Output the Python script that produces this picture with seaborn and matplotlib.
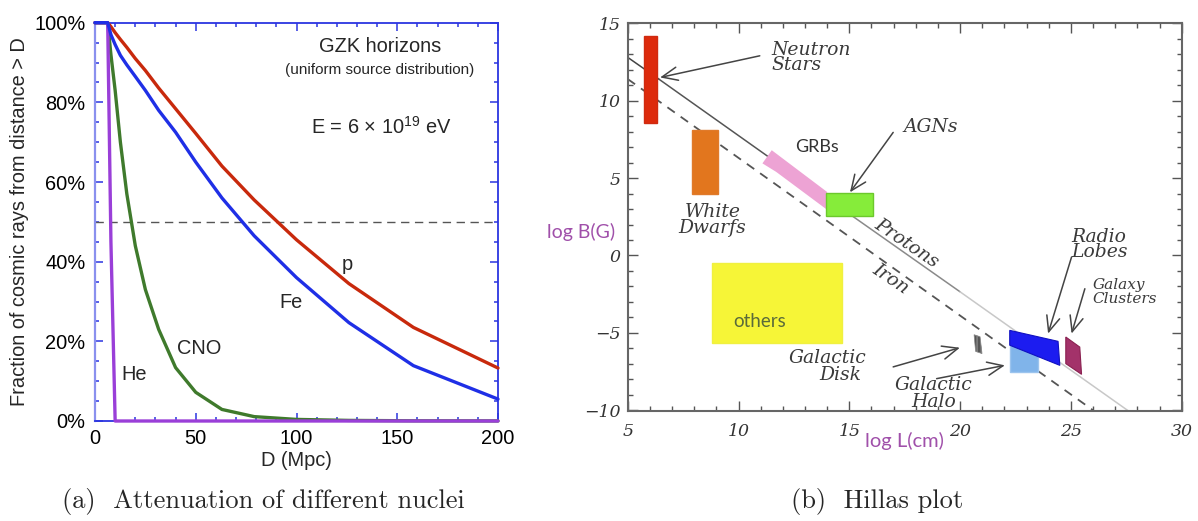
import matplotlib
matplotlib.use("Agg")
import matplotlib.pyplot as plt
import numpy as np
import pandas as pd
import seaborn as sns
from matplotlib.patches import Rectangle, Polygon
from matplotlib.ticker import MultipleLocator, FuncFormatter

# ---------------- panel (a) data ----------------
distance_mpc = [0, 6.3, 7.9, 10, 12.6, 15.8, 20, 25, 31.6, 40, 50, 63, 79, 100, 126, 158, 200]
frac_p = [100, 100, 99.0, 97.5, 95.8, 93.8, 91.0, 88.0, 83.6, 78.4, 72.2, 64.0, 55.5, 45.5, 34.5, 23.5, 13.3]
frac_fe = [100, 100, 97.0, 94.5, 91.8, 89.4, 86.5, 83.0, 78.0, 72.5, 65.0, 56.0, 46.5, 36.0, 24.7, 13.9, 5.5]
frac_cno = [100, 100, 92.0, 83.0, 70.0, 57.0, 44.0, 33.0, 23.0, 13.4, 7.2, 2.9, 1.1, 0.4, 0.15, 0.05, 0.02]
frac_he = [100, 100, 45.0, 0, 0, 0, 0, 0, 0, 0, 0, 0, 0, 0, 0, 0, 0]
nuclei = ["p", "CNO", "He", "Fe"]
nucleus_colors = ["#c8290c", "#3f7a2c", "#9a3fd8", "#1f2fe6"]
x_ticks_a = [0, 50, 100, 150, 200]
y_ticks_a = [0, 20, 40, 60, 80, 100]
half_level = 50

# ---------------- panel (b) data ----------------
hillas_x_ticks = [5, 10, 15, 20, 25, 30]
hillas_y_ticks = [-10, -5, 0, 5, 10, 15]
proton_logL = [5.0, 6.4, 13.0, 20.0, 27.6]
proton_logB = [12.8, 11.4, 4.7, -2.35, -10.05]
iron_logL = [5.0, 26.0]
iron_logB = [11.4, -10.0]
box_names = ["Neutron Stars", "White Dwarfs", "others", "AGNs", "Galactic Halo"]
box_logL_min = [5.74, 7.91, 8.82, 13.93, 22.24]
box_logL_max = [6.34, 9.09, 14.65, 16.08, 23.52]
box_logB_min = [8.56, 3.94, -5.66, 2.58, -7.53]
box_logB_max = [14.2, 8.13, -0.47, 4.05, -5.80]
grb_logL = [11.08, 11.50, 14.0, 14.0, 11.70]
grb_logB = [5.95, 6.80, 4.10, 2.95, 5.40]
disk_logL = [20.63, 20.90, 20.99, 20.70]
disk_logB = [-5.12, -5.25, -6.34, -6.20]
lobes_logL = [22.24, 24.42, 24.50, 22.24]
lobes_logB = [-4.84, -5.55, -7.10, -5.80]
clusters_logL = [24.77, 25.40, 25.48, 24.77]
clusters_logB = [-5.27, -5.92, -7.68, -6.99]

# ---------------- style ----------------
sns.set_theme(style="white")
plt.rcParams["font.family"] = ["Liberation Sans", "DejaVu Sans"]
plt.rcParams["mathtext.fontset"] = "custom"
plt.rcParams["mathtext.rm"] = "Liberation Sans"
plt.rcParams["mathtext.it"] = "Liberation Sans:italic"

fig = plt.figure(figsize=(11.98, 5.21), dpi=100)
fig.patch.set_facecolor("white")

# ======================= panel (a) =======================
ax = fig.add_axes([95 / 1198, 1 - 421 / 521, 403 / 1198, 398.3 / 521])
df = pd.DataFrame({
    "D": distance_mpc * 4,
    "frac": frac_p + frac_cno + frac_he + frac_fe,
    "nucleus": sum([[n] * len(distance_mpc) for n in nuclei], []),
})
sns.lineplot(data=df, x="D", y="frac", hue="nucleus", hue_order=nuclei,
             palette=nucleus_colors, estimator=None, sort=False, lw=2.4,
             legend=False, ax=ax, clip_on=False, zorder=3)
ax.axhline(half_level, color="#555555", lw=1.0, ls=(0, (6, 4)), zorder=2)
ax.set_xlim(0, 200)
ax.set_ylim(0, 100)
ax.set_xticks(x_ticks_a)
ax.set_yticks(y_ticks_a)
ax.xaxis.set_minor_locator(MultipleLocator(10))
ax.yaxis.set_minor_locator(MultipleLocator(5))
ax.yaxis.set_major_formatter(FuncFormatter(lambda v, _: f"{v:.0f}%"))
blue = "#2b35e0"
light_blue = "#8a90ee"
for side in ["top", "right", "bottom"]:
    ax.spines[side].set_color(blue)
    ax.spines[side].set_linewidth(1.3)
ax.spines["left"].set_color(light_blue)
ax.spines["left"].set_linewidth(1.6)
ax.tick_params(which="both", direction="in", top=True, right=True, bottom=True, left=True,
               color=blue, width=1.1, labelsize=14.4, labelcolor="black")
ax.tick_params(which="major", length=6)
ax.tick_params(which="minor", length=3)
ax.tick_params(axis="x", pad=6)
ax.tick_params(axis="y", pad=7)
ax.set_xlabel("D (Mpc)", fontsize=14.4)
ax.xaxis.set_label_coords(0.5, -0.076)
ax.set_ylabel("Fraction of cosmic rays from distance > D", fontsize=14.4)
ax.yaxis.set_label_coords(-0.163, 0.5)

ax.text(141.4, 92.6, "GZK horizons", fontsize=14.4, ha="center", va="baseline")
ax.text(141.4, 87.2, "(uniform source distribution)", fontsize=11, ha="center", va="baseline")
ax.text(141.9, 72.2, r"E = 6 × 10$^{19}$ eV", fontsize=14.4, ha="center", va="baseline")
ax.text(125.4, 37.9, "p", fontsize=14.4, ha="center", va="baseline")
ax.text(97.4, 28.3, "Fe", fontsize=14.4, ha="center", va="baseline")
ax.text(51.5, 16.7, "CNO", fontsize=14.4, ha="center", va="baseline")
ax.text(19.5, 10.3, "He", fontsize=14.4, ha="center", va="baseline")

# ======================= panel (b) =======================
bx = fig.add_axes([627.7 / 1198, 1 - 411 / 521, 554 / 1198, 387.7 / 521])
bx.set_xlim(5, 30)
bx.set_ylim(-10.05, 14.95)

hershey = "DejaVu Serif"
txt_col = "#3a3a3a"

# lines (protons solid, fading; iron dashed)
seg_cols = ["#444444", "#555555", "#8a8a8a", "#c8c8c8"]
for i in range(len(proton_logL) - 1):
    seg = pd.DataFrame({"L": proton_logL[i:i + 2], "B": proton_logB[i:i + 2]})
    sns.lineplot(data=seg, x="L", y="B", color=seg_cols[i], lw=1.1, ax=bx,
                 estimator=None, sort=False, zorder=1)
sns.lineplot(x=iron_logL, y=iron_logB, color="#555555", lw=1.3, ls=(0, (5, 4)),
             ax=bx, estimator=None, sort=False, zorder=1)

box_colors = ["#dd2a0c", "#e2761e", "#f6f537", "#86ec3a", "#80b4ea"]
box_edges = ["#d02a10", "#e07a2a", "#f0f040", "#6cc82c", "#9cc4ee"]
for i in range(len(box_names)):
    bx.add_patch(Rectangle((box_logL_min[i], box_logB_min[i]),
                           box_logL_max[i] - box_logL_min[i],
                           box_logB_max[i] - box_logB_min[i],
                           facecolor=box_colors[i], edgecolor=box_edges[i], lw=1,
                           zorder=4 if box_names[i] == "AGNs" else 3))
bx.add_patch(Polygon(list(zip(grb_logL, grb_logB)), closed=True,
                     facecolor="#eda3d4", edgecolor="none", zorder=3))
bx.add_patch(Polygon(list(zip(disk_logL, disk_logB)), closed=True,
                     facecolor="#555555", edgecolor="#888888", hatch="||||", lw=0.5, zorder=3))
bx.add_patch(Polygon(list(zip(lobes_logL, lobes_logB)), closed=True,
                     facecolor="#1c1cf0", edgecolor="#1010c0", lw=0.8, zorder=5))
bx.add_patch(Polygon(list(zip(clusters_logL, clusters_logB)), closed=True,
                     facecolor="#a3326a", edgecolor="#8a2050", lw=0.8, zorder=5))

arrow_kw = dict(arrowstyle="->,head_length=0.7,head_width=0.3", color="#444444",
                lw=1.1, mutation_scale=16, shrinkA=0, shrinkB=0)
for start, end in [((10.96, 12.9), (6.46, 11.5)),
                   ((16.98, 7.95), (15.03, 4.08)),
                   ((16.98, -7.2), (19.99, -5.96)),
                   ((18.94, -7.96), (22.02, -7.1)),
                   ((25.03, -0.1), (23.97, -5.05)),
                   ((25.63, -2.15), (25.03, -5.05))]:
    bx.annotate("", xy=end, xytext=start, arrowprops=arrow_kw, zorder=6)

tk = dict(family=hershey, style="italic", color=txt_col, fontsize=13.5)
bx.text(11.5, 12.8, "Neutron\nStars", ha="left", va="center", linespacing=0.82, **tk)
bx.text(8.83, 2.31, "White\nDwarfs", ha="center", va="center", linespacing=0.85, **tk)
bx.text(17.43, 8.28, "AGNs", ha="left", va="center", **tk)
bx.text(17.58, 0.81, "Protons", ha="center", va="center", rotation=-34,
        rotation_mode="anchor", **tk)
bx.text(16.87, -1.55, "Iron", ha="center", va="center", rotation=-34,
        rotation_mode="anchor", **tk)
bx.text(15.79, -7.2, "Galactic\nDisk ", ha="right", va="center", multialignment="right",
        linespacing=0.92, **tk)
bx.text(18.79, -8.92, "Galactic\nHalo", ha="center", va="center", linespacing=0.92, **tk)
bx.text(25.03, 0.7, "Radio\nLobes", ha="left", va="center", linespacing=0.82, **tk)
bx.text(25.99, -2.35, "Galaxy\nClusters", ha="left", va="center", linespacing=0.95,
        **dict(tk, fontsize=11))
bx.text(13.53, 6.99, "GRBs", family="Lato", color="#333333", fontsize=13,
        ha="center", va="center")
bx.text(10.96, -4.24, "others", family="Lato", color="#5a6b3a", fontsize=13.5,
        ha="center", va="center")

bx.set_xticks(hillas_x_ticks)
bx.set_yticks(hillas_y_ticks)
bx.xaxis.set_minor_locator(MultipleLocator(1))
bx.yaxis.set_minor_locator(MultipleLocator(1))
for side in ["top", "right", "bottom", "left"]:
    bx.spines[side].set_color("#666666")
    bx.spines[side].set_linewidth(1.5)
bx.tick_params(which="both", direction="in", top=True, right=True, bottom=True, left=True,
               color="#555555", width=1.0, labelcolor="#333333", labelsize=12.5)
bx.tick_params(which="major", length=7)
bx.tick_params(which="minor", length=3.5)
bx.tick_params(axis="x", pad=9)
bx.tick_params(axis="y", pad=5)
for lab in bx.get_xticklabels() + bx.get_yticklabels():
    lab.set_family(hershey)
    lab.set_style("italic")
purple = "#a050aa"
bx.set_xlabel("log L(cm)", family="Lato", color=purple, fontsize=14.5, va="top")
bx.xaxis.set_label_coords(0.5, -0.055)
bx.set_ylabel("log B(G)", family="Lato", color=purple, fontsize=14, rotation=0,
              ha="right", va="center")
bx.yaxis.set_label_coords(-0.023, 0.462)

# captions
fig.text(263 / 1198, 1 - 508 / 521, "(a)  Attenuation of different nuclei",
         family="cmr10", fontsize=19, ha="center", va="baseline")
fig.text(877 / 1198, 1 - 508 / 521, "(b)  Hillas plot",
         family="cmr10", fontsize=19, ha="center", va="baseline")

fig.savefig("out.png", dpi=100, facecolor="white")
